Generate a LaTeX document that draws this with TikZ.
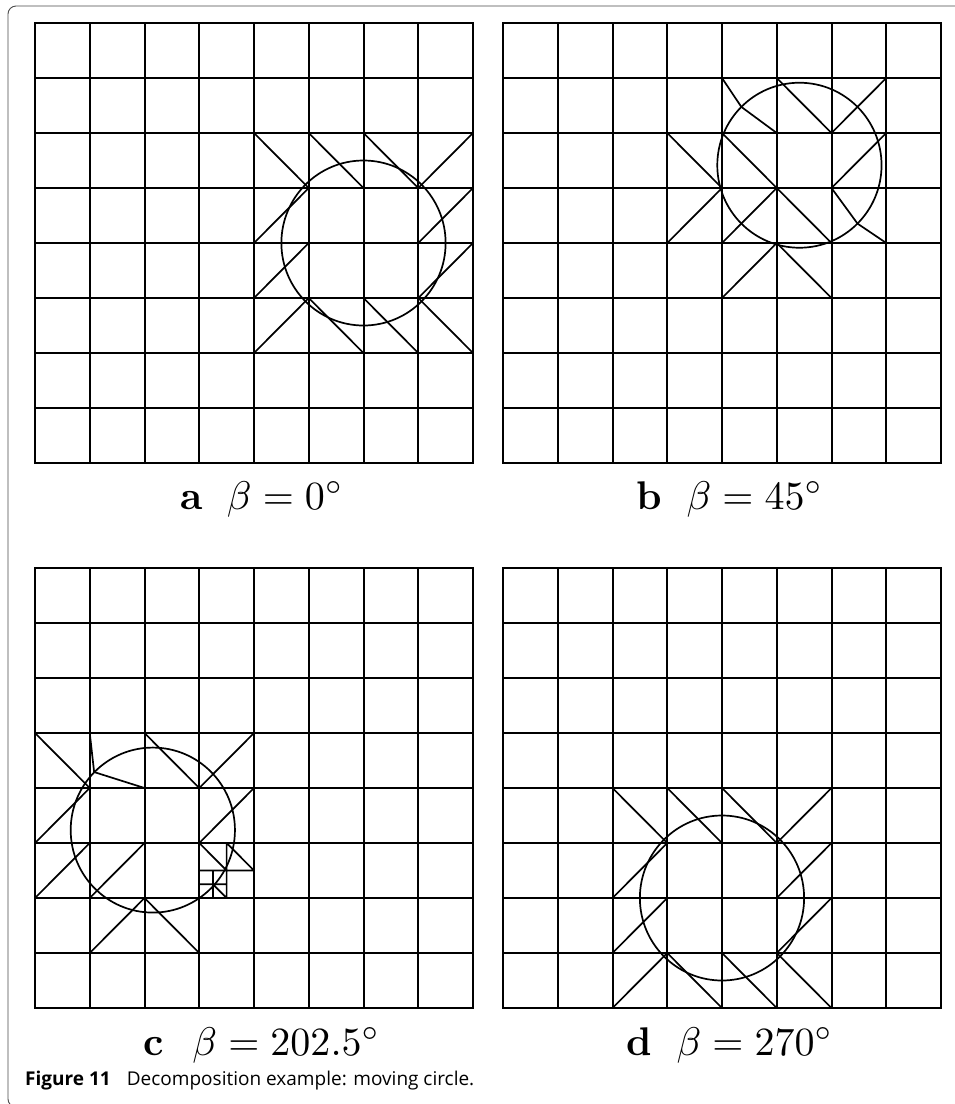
\documentclass[tikz,border=0pt]{standalone}
\usepackage{fontspec}
\newfontfamily\capfont{Open Sans}
\begin{document}
\begin{tikzpicture}[x=1pt,y=-1pt,
  gline/.style={line width=2pt, line cap=rect},
  dline/.style={line width=1.7pt, line cap=round, line join=round},
  circ/.style={line width=1.7pt},
  frame/.style={draw=black!70, line width=0.9pt, rounded corners=8pt},
  lab/.style={anchor=base, inner sep=0pt, scale=4},
  captext/.style={anchor=base west, inner sep=0pt, font=\capfont\fontsize{19}{22}\selectfont}]
\useasboundingbox (0,0) rectangle (955,1104);
\clip (0,0) rectangle (955,1104);
\fill[white] (0,0) rectangle (955,1104);
\draw[frame] (8,6) rectangle (963,1107);

\newcommand{\panelgrid}{%
  \foreach \k in {0,...,8} {%
    \pgfmathsetmacro{\gx}{round(54.75*\k)/54.75}%
    \draw[gline] (\gx,0) -- (\gx,8);
    \draw[gline] (0,\k) -- (8,\k);}}

% ---------- panel a ----------
\begin{scope}[shift={(35,23)}, x=54.75pt, y=-55pt]
  \panelgrid
  \draw[dline] (4,2)--(5,3) (5,2)--(6,3) (6,2)--(7,3) (7,3)--(8,2)
               (4,4)--(5,3) (7,4)--(8,3)
               (4,5)--(5,4) (7,5)--(8,4)
               (4,6)--(5,5) (5,5)--(6,6) (6,5)--(7,6) (7,5)--(8,6);
  \draw[circ] (6,4) circle[x radius=1.5, y radius=1.5];
\end{scope}

% ---------- panel b ----------
\begin{scope}[shift={(503,23)}, x=54.75pt, y=-55pt]
  \panelgrid
  \coordinate (P1) at (4.353,1.525);
  \coordinate (P2) at (6.475,3.647);
  \draw[dline] (4,1)--(P1)--(5,2) (5,1)--(6,2) (6,2)--(7,1)
               (3,2)--(4,3) (4,2)--(5,3) (6,3)--(7,2)
               (3,4)--(4,3) (4,4)--(5,3) (5,3)--(6,4) (6,3)--(P2)--(7,4)
               (4,5)--(5,4) (5,4)--(6,5);
  \draw[circ] (5.414,2.586) circle[x radius=1.5, y radius=1.5];
\end{scope}

% ---------- panel c ----------
\begin{scope}[shift={(35,568)}, x=54.75pt, y=-55pt]
  \panelgrid
  \coordinate (Q) at (1.08,3.71);
  \draw[dline] (0,3)--(1,4) (1,3)--(Q)--(2,4) (2,3)--(3,4) (3,4)--(4,3)
               (0,5)--(1,4) (3,5)--(4,4)
               (0,6)--(1,5) (1,6)--(2,5)
               (1,7)--(2,6) (2,6)--(3,7);
  % refined cell
  \draw[dline] (3.5,5)--(3.5,6) (3,5.5)--(4,5.5)
               (3,5)--(3.5,5.5) (3.5,5)--(4,5.5)
               (3.25,5.5)--(3.25,6) (3,5.75)--(3.5,5.75)
               (3.25,5.75)--(3.5,6);
  \draw[circ] (2.152,4.765) circle[x radius=1.5, y radius=1.5];
\end{scope}

% ---------- panel d ----------
\begin{scope}[shift={(503,568)}, x=54.75pt, y=-55pt]
  \panelgrid
  \draw[dline] (2,4)--(3,5) (3,4)--(4,5) (4,4)--(5,5) (5,5)--(6,4)
               (2,6)--(3,5) (5,6)--(6,5)
               (2,7)--(3,6) (5,7)--(6,6)
               (2,8)--(3,7) (3,7)--(4,8) (4,7)--(5,8) (5,7)--(6,8);
  \draw[circ] (4,6) circle[x radius=1.5, y radius=1.5];
\end{scope}

% ---------- labels ----------
\node[lab] (la) at (262,509) {\textbf{a}\hspace{0.6em}$\beta = 0^\circ$};
\node[lab] (lb) at (730,509) {\textbf{b}\hspace{0.6em}$\beta = 45^\circ$};
\node[lab] (lc) at (262,1055) {\textbf{c}\hspace{0.7em}$\beta = 202.5^\circ$};
\node[lab] (ld) at (730,1055) {\textbf{d}\hspace{0.6em}$\beta = 270^\circ$};

\node[captext] (capt) at (25,1085) {\textbf{Figure 11}\hspace{0.85em}Decomposition example: moving circle.};
\end{tikzpicture}
\end{document}
